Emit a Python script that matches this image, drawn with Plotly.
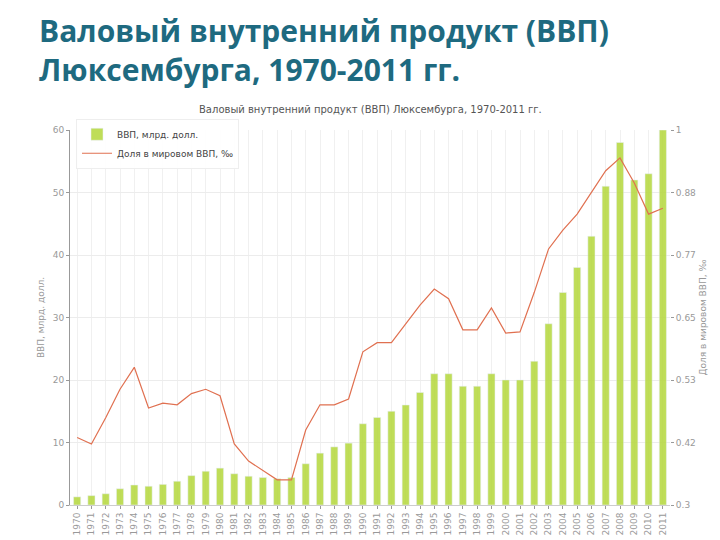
import plotly.graph_objects as go

years = [str(y) for y in range(1970, 2012)]
gdp = [1.3, 1.5, 1.8, 2.6, 3.2, 3.0, 3.3, 3.8, 4.7, 5.4, 5.9, 5.0, 4.6, 4.4, 4.2, 4.4,
       6.6, 8.3, 9.3, 9.9, 13, 14, 15, 16, 18, 21, 21, 19, 19, 21, 20, 20, 23, 29,
       34, 38, 43, 51, 58, 52, 53, 60]
share = [0.426, 0.414, 0.463, 0.516, 0.557, 0.481, 0.490, 0.487, 0.508, 0.516, 0.504,
         0.414, 0.382, 0.364, 0.347, 0.347, 0.440, 0.487, 0.487, 0.498, 0.586, 0.603,
         0.603, 0.638, 0.673, 0.703, 0.685, 0.627, 0.627, 0.668, 0.621, 0.623, 0.697,
         0.778, 0.813, 0.843, 0.883, 0.924, 0.948, 0.901, 0.843, 0.854]
right_ticks = [0.3 + i * 0.7 / 6 for i in range(7)]
right_labels = ["0.3", "0.42", "0.53", "0.65", "0.77", "0.88", "1"]

fig = go.Figure()
fig.add_trace(go.Bar(x=years, y=gdp, name="ВВП, млрд. долл.",
                     marker_color="#b5d83c", opacity=0.85, width=0.5))
fig.add_trace(go.Scatter(x=years, y=share, name="Доля в мировом ВВП, ‰", yaxis="y2",
                         mode="lines", line=dict(color="#e07050", width=1.2)))

fig.add_annotation(text="<b>Валовый внутренний продукт (ВВП)<br>Люксембурга, 1970-2011 гг.</b>",
                   xref="paper", yref="paper", x=-0.055, y=1.325, xanchor="left", yanchor="top",
                   align="left", showarrow=False,
                   font=dict(family="Open Sans", size=30, color="#1e6a80"))
fig.add_annotation(text="Валовый внутренний продукт (ВВП) Люксембурга, 1970-2011 гг.",
                   xref="paper", yref="paper", x=0.5, y=1.075, xanchor="center",
                   showarrow=False, font=dict(family="DejaVu Sans", size=10, color="#555"))

fig.update_layout(
    width=720, height=540,
    margin=dict(l=62, r=58, t=122, b=40),
    paper_bgcolor="white", plot_bgcolor="white",
    showlegend=True,
    legend=dict(x=0.01, y=1.03, xanchor="left", yanchor="top", bgcolor="rgba(255,255,255,0.9)",
                font=dict(family="DejaVu Sans", size=9, color="#444"),
                bordercolor="#eee", borderwidth=1, tracegroupgap=0, itemwidth=30),
    xaxis=dict(tickangle=-90, tickfont=dict(family="DejaVu Sans", size=9, color="#999"),
               showgrid=True, gridcolor="#f0f0f0", ticks="outside", ticklen=3,
               tickcolor="#999", showline=True, linecolor="#ccc"),
    yaxis=dict(range=[0, 60], dtick=10, title=dict(text="ВВП, млрд. долл.", standoff=6,
               font=dict(family="DejaVu Sans", size=9, color="#999")),
               tickfont=dict(family="DejaVu Sans", size=9, color="#999"),
               gridcolor="#ececec", zeroline=False, showline=True, linecolor="#999",
               ticks="outside", ticklen=3, tickcolor="#999"),
    yaxis2=dict(overlaying="y", side="right", range=[0.3, 1], tickvals=right_ticks,
                ticktext=right_labels, showgrid=False, zeroline=False,
                title=dict(text="Доля в мировом ВВП, ‰", standoff=4,
                           font=dict(family="DejaVu Sans", size=9, color="#999")),
                tickfont=dict(family="DejaVu Sans", size=9, color="#999"),
                ticks="outside", ticklen=3, tickcolor="#999"),
    bargap=0.5,
)

fig.write_html("out.html")
